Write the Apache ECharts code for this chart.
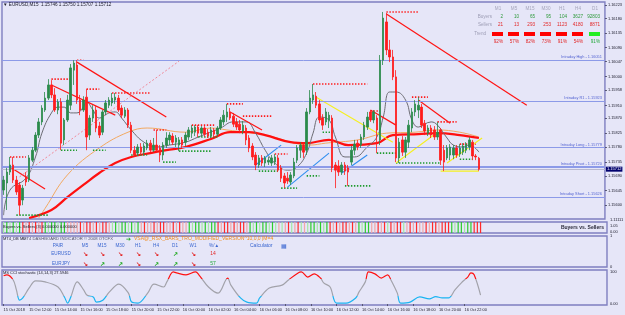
<!DOCTYPE html>
<html>
<head>
<meta charset="utf-8">
<script src="https://cdn.jsdelivr.net/npm/echarts@6/dist/echarts.min.js"></script>
<style>
html,body{margin:0;padding:0;background:#e6e6f8;}
#main{width:625px;height:315px;}
</style>
</head>
<body>
<div id="main"></div>
<script>
// ---- data ----
var slotCount = 189;   // bars + right shift of the terminal
var timeLabels = ['15 Oct 2018','15 Oct 12:00','15 Oct 14:00','15 Oct 16:00','15 Oct 18:00','15 Oct 20:00','15 Oct 22:00',
  '16 Oct 00:00','16 Oct 02:00','16 Oct 04:00','16 Oct 06:00','16 Oct 08:00','16 Oct 10:00','16 Oct 12:00',
  '16 Oct 14:00','16 Oct 16:00','16 Oct 18:00','16 Oct 20:00','16 Oct 22:00'];
var priceTicks = [1.15600,1.15645,1.15690,1.15735,1.15780,1.15825,1.15870,1.15910,1.15958,1.16000,1.16047,1.16090,1.16135,1.16180,1.16223];

// [open, close, low, high]
var candles = [
 [1.15647,1.15678,1.15632,1.15691],[1.15669,1.15703,1.15585,1.15716],[1.15703,1.15725,1.15694,1.15750],[1.15725,1.15678,1.15669,1.15750],[1.15678,1.15641,1.15632,1.15691],
 [1.15663,1.15600,1.15569,1.15672],[1.15616,1.15653,1.15600,1.15663],[1.15688,1.15672,1.15660,1.15703],[1.15678,1.15747,1.15672,1.15756],[1.15740,1.15771,1.15734,1.15781],
 [1.15771,1.15818,1.15765,1.15827],[1.15818,1.15859,1.15809,1.15871],[1.15859,1.15902,1.15849,1.15911],[1.15896,1.15933,1.15890,1.15952],[1.15933,1.15974,1.15927,1.15992],
 [1.15974,1.15943,1.15933,1.15989],[1.15943,1.15896,1.15890,1.15964],[1.15896,1.15921,1.15883,1.15930],[1.15921,1.15793,1.15771,1.15933],[1.15803,1.15865,1.15787,1.15871],
 [1.15865,1.15927,1.15859,1.15943],[1.15911,1.16027,1.15896,1.16039],[1.16020,1.16042,1.15974,1.16051],[1.16036,1.15927,1.15915,1.16051],[1.15927,1.15896,1.15880,1.15943],
 [1.15896,1.15927,1.15890,1.15939],[1.15936,1.15812,1.15771,1.15961],[1.15818,1.15871,1.15803,1.15880],[1.15871,1.15896,1.15859,1.15911],[1.15896,1.15840,1.15827,1.15908],
 [1.15846,1.15818,1.15809,1.15859],[1.15827,1.15890,1.15818,1.15896],[1.15890,1.15918,1.15880,1.15927],[1.15911,1.15927,1.15902,1.15936],[1.15918,1.15933,1.15908,1.15949],
 [1.15927,1.15936,1.15915,1.15949],[1.15933,1.15896,1.15890,1.15943],[1.15902,1.15880,1.15871,1.15911],[1.15877,1.15896,1.15871,1.15905],[1.15896,1.15849,1.15840,1.15902],
 [1.15849,1.15771,1.15762,1.15859],[1.15771,1.15756,1.15750,1.15784],[1.15762,1.15781,1.15753,1.15790],[1.15781,1.15765,1.15756,1.15793],[1.15765,1.15784,1.15756,1.15793],
 [1.15778,1.15793,1.15771,1.15803],[1.15793,1.15771,1.15765,1.15803],[1.15771,1.15787,1.15765,1.15809],[1.15787,1.15771,1.15762,1.15834],[1.15778,1.15756,1.15734,1.15787],
 [1.15756,1.15787,1.15740,1.15796],[1.15787,1.15809,1.15778,1.15827],[1.15803,1.15818,1.15787,1.15827],[1.15815,1.15796,1.15787,1.15824],[1.15796,1.15809,1.15781,1.15818],
 [1.15787,1.15803,1.15768,1.15812],[1.15803,1.15787,1.15778,1.15812],[1.15796,1.15818,1.15784,1.15827],[1.15812,1.15834,1.15803,1.15843],[1.15824,1.15840,1.15809,1.15849],
 [1.15827,1.15843,1.15815,1.15849],[1.15843,1.15824,1.15812,1.15849],[1.15824,1.15840,1.15812,1.15846],[1.15840,1.15821,1.15812,1.15846],[1.15827,1.15815,1.15809,1.15837],
 [1.15815,1.15834,1.15809,1.15843],[1.15834,1.15821,1.15812,1.15840],[1.15821,1.15840,1.15815,1.15846],[1.15840,1.15865,1.15834,1.15874],[1.15859,1.15880,1.15849,1.15896],
 [1.15874,1.15890,1.15859,1.15915],[1.15890,1.15871,1.15865,1.15902],[1.15877,1.15852,1.15843,1.15887],[1.15859,1.15843,1.15834,1.15871],[1.15852,1.15834,1.15824,1.15865],
 [1.15831,1.15849,1.15821,1.15862],[1.15840,1.15803,1.15787,1.15849],[1.15809,1.15778,1.15765,1.15818],[1.15784,1.15750,1.15740,1.15793],[1.15756,1.15725,1.15709,1.15765],
 [1.15725,1.15747,1.15716,1.15756],[1.15747,1.15731,1.15722,1.15756],[1.15731,1.15747,1.15719,1.15753],[1.15734,1.15740,1.15725,1.15750],[1.15731,1.15747,1.15722,1.15756],
 [1.15734,1.15750,1.15725,1.15759],[1.15747,1.15709,1.15703,1.15756],[1.15716,1.15684,1.15672,1.15725],[1.15691,1.15669,1.15653,1.15700],[1.15684,1.15675,1.15666,1.15703],
 [1.15672,1.15694,1.15663,1.15703],[1.15691,1.15734,1.15684,1.15747],[1.15740,1.15778,1.15731,1.15787],[1.15771,1.15787,1.15747,1.15796],[1.15787,1.15765,1.15747,1.15796],
 [1.15771,1.15890,1.15756,1.15902],[1.15890,1.15933,1.15883,1.15958],[1.15927,1.15943,1.15915,1.15977],[1.15939,1.15911,1.15902,1.15952],[1.15915,1.15865,1.15855,1.15927],
 [1.15871,1.15849,1.15834,1.15883],[1.15859,1.15890,1.15849,1.15902],[1.15865,1.15880,1.15840,1.15890],[1.15871,1.15716,1.15703,1.15880],[1.15725,1.15709,1.15653,1.15734],
 [1.15722,1.15703,1.15691,1.15740],[1.15703,1.15725,1.15694,1.15734],[1.15725,1.15706,1.15694,1.15734],[1.15716,1.15703,1.15660,1.15725],[1.15734,1.15771,1.15725,1.15784],
 [1.15771,1.15790,1.15756,1.15803],[1.15793,1.15781,1.15771,1.15803],[1.15787,1.15812,1.15778,1.15821],[1.15812,1.15849,1.15803,1.15859],[1.15843,1.15874,1.15834,1.15890],
 [1.15890,1.15865,1.15859,1.15896],[1.15865,1.15890,1.15855,1.15896],[1.15871,1.15834,1.15762,1.15880],[1.15803,1.16051,1.15787,1.16067],[1.16051,1.16182,1.16036,1.16201],
 [1.16170,1.16083,1.16067,1.16198],[1.16083,1.16061,1.16045,1.16114],[1.16061,1.15999,1.15989,1.16083],[1.15999,1.15747,1.15734,1.16020],[1.15747,1.15796,1.15731,1.15809],
 [1.15803,1.15765,1.15753,1.15815],[1.15765,1.15803,1.15747,1.15812],[1.15796,1.15849,1.15778,1.15865],[1.15840,1.15890,1.15827,1.15902],[1.15890,1.15915,1.15877,1.15927],
 [1.15896,1.15911,1.15871,1.15936],[1.15905,1.15849,1.15840,1.15915],[1.15855,1.15831,1.15818,1.15865],[1.15824,1.15840,1.15815,1.15849],[1.15840,1.15818,1.15809,1.15849],
 [1.15834,1.15812,1.15803,1.15846],[1.15812,1.15827,1.15803,1.15859],[1.15834,1.15740,1.15725,1.15840],[1.15771,1.15734,1.15706,1.15787],[1.15747,1.15778,1.15740,1.15787],
 [1.15756,1.15781,1.15740,1.15790],[1.15756,1.15778,1.15743,1.15787],[1.15778,1.15756,1.15747,1.15787],[1.15759,1.15778,1.15750,1.15790],[1.15765,1.15784,1.15756,1.15793],
 [1.15771,1.15790,1.15762,1.15796],[1.15781,1.15803,1.15771,1.15812],[1.15796,1.15753,1.15740,1.15803],[1.15753,1.15750,1.15740,1.15759],[1.15746,1.15712,1.15707,1.15750]
];

// moving averages, [bar, price]
var redMA = [[8,1.15560],[15,1.15585],[20,1.15625],[25,1.15663],[30,1.15700],[35,1.15731],[40,1.15750],[46,1.15762],[51,1.15771],[57,1.15781],
  [65,1.15806],[71,1.15827],[77,1.15827],[82,1.15818],[90,1.15796],[95,1.15793],[102,1.15803],[108,1.15787],[117,1.15793],[122,1.15818],
  [130,1.15821],[136,1.15824],[143,1.15818],[149,1.15809]];
var orangeMA = [[11,1.15560],[13,1.15590],[20,1.15694],[30,1.15778],[39,1.15827],[45,1.15840],[57,1.15827],[65,1.15840],[70,1.15834],[82,1.15818],
  [96,1.15787],[101,1.15793],[111,1.15803],[120,1.15824],[129,1.15827],[136,1.15834],[143,1.15827],[149,1.15812]];
var grayMA = [[0,1.15569],[2,1.15647],[7,1.15684],[10,1.15750],[12,1.15824],[15,1.15887],[17,1.15905],[19,1.15905],[21,1.15887],[23,1.15887],
  [25,1.15905],[26,1.15921],[28,1.15896],[30,1.15871],[33,1.15887],[35,1.15890],[37,1.15871],[40,1.15834],[44,1.15796],[48,1.15781],
  [52,1.15787],[57,1.15796],[61,1.15812],[68,1.15840],[72,1.15859],[76,1.15859],[79,1.15824],[82,1.15771],[85,1.15731],[89,1.15709],
  [92,1.15719],[95,1.15762],[97,1.15824],[99,1.15874],[102,1.15865],[104,1.15812],[107,1.15750],[110,1.15750],[114,1.15781],[117,1.15812],
  [119,1.15874],[121,1.15952],[123,1.15952],[126,1.15927],[128,1.15865],[130,1.15843],[134,1.15859],[136,1.15849],[139,1.15809],[141,1.15787],
  [144,1.15781],[146,1.15787],[149,1.15765]];

// fractal levels [fromBar, toBar, price]
var highFractals = [[2,7,1.15750],[15,21,1.15992],[23,25,1.16051],[26,30,1.15961],[34,46,1.15949],[47,51,1.15834],[59,66,1.15849],[70,75,1.15915],
  [75,84,1.15877],[85,89,1.15759],[97,114,1.15977],[115,118,1.15893],[120,130,1.16201],[128,133,1.15936],[136,142,1.15859],[143,148,1.15790]];
var lowFractals = [[4,14,1.15569],[18,23,1.15771],[28,32,1.15771],[40,45,1.15756],[50,54,1.15734],[55,65,1.15768],[61,67,1.15812],[80,86,1.15706],
  [87,92,1.15653],[95,99,1.15691],[100,103,1.15827],[107,115,1.15660],[117,123,1.15762],[123,137,1.15731],[143,147,1.15743]];

// drawn trend lines, [[bar, price], [bar, price]]
var redLines = [[[120,1.16195],[164,1.15911]],[[23,1.16045],[51,1.15874]],[[15,1.15974],[35,1.15880]],[[2,1.15719],[13,1.15650]],
  [[71,1.15890],[81,1.15834]],[[115,1.15896],[123,1.15849]],[[130,1.15927],[140,1.15855]]];
var pinkLines = [[[5,1.15688],[55,1.16048]]];
var yellowLines = [[[98,1.15936],[122,1.15796]],[[123,1.15731],[136,1.15827]],[[139,1.15731],[150,1.15809]],[[137,1.15706],[149,1.15706]]];
var blueLines = [[[79,1.15725],[87,1.15787]],[[89,1.15656],[102,1.15762]],[[106,1.15700],[114,1.15756]]];

var levelNames = ['Intraday High - 1.16051','Intraday R1 - 1.15923','Intraday Long - 1.15779','Intraday Pivot - 1.15720','Intraday Short - 1.15626'];
var levelValues = [1.16051,1.15923,1.15779,1.15720,1.15626];
var bidPrice = 1.15712;

// buyers vs sellers, one code per bar
var bsCodes = ['gGgGgG','RrRrRrR','GgGGgGG','rrrr','RrRRrRrRRr','gGgGGgGgG','rRrrRrRRrrRrRrr','GgGGgGgGG','RrRRrRrRRr',
  'GgGgGGgGg','rgrRgrRgrg','GGgGgG','RrRrRRrRr','GgGG','rr','RrRgRrRRgrR','rRrrRr','RRrRRR','GgGGgGG','RRR'].join('');
var bsScale = ['1.11111','1.05','0.00'];

// CCI stochastic, [bar, value]
var cci = [[0,88],[1,91],[3,75],[4,44],[5,12],[6,19],[8,50],[10,72],[13,69],[17,53],[19,22],[20,3],[21,22],[23,69],[25,44],[26,28],[28,22],
  [29,6],[31,12],[33,37],[36,62],[39,34],[40,6],[42,3],[45,34],[47,62],[50,53],[51,69],[53,100],[54,97],[57,91],[60,100],[61,91],[64,53],
  [67,34],[70,81],[71,59],[74,19],[76,6],[79,3],[80,19],[83,50],[87,59],[89,75],[92,97],[93,100],[95,84],[97,94],[99,81],[100,66],[102,53],
  [104,3],[107,3],[110,19],[111,37],[113,69],[114,100],[116,94],[118,81],[120,91],[121,75],[123,34],[124,3],[127,6],[130,22],[133,16],
  [135,23],[137,19],[139,19],[141,44],[143,66],[145,84],[146,97],[147,91],[149,27.59]];

// buyers/sellers table top right
var tfNames = ['M1','M5','M15','M30','H1','H4','D1'];
var buyers = ['2','10','65','95','104','3627','92803'];
var sellers = ['21','13','293','253','1123','4180','8871'];
var trendUp = [false,false,false,false,false,false,true];
var trendPct = ['92%','57%','82%','73%','91%','54%','91%'];

// dashboard
var dashCols = ['M5','M15','M30','H1','H4','D1','W1'];
var dashPairs = ['EURUSD','EURJPY'];
var dashDirs = [[-1,-1,-1,-1,-1,1,-1],[-1,1,1,-1,1,1,-1]];
var dashPct = ['14','57'];

// ---- chart ----
var slots = [];
for (var i = 0; i < slotCount; i++) slots.push(i);

var FONT = '"Liberation Sans", Arial, sans-serif';
function txt(x, y, s, color, size, align, weight) {
  return {type:'text', x:x, y:y, silent:true, z:100,
    style:{text:s, fill:color, font:(weight||'normal')+' '+size+'px '+FONT,
      align:align||'left', textAlign:align||'left', verticalAlign:'middle', textVerticalAlign:'middle'}};
}

var graphics = [];
graphics.push(txt(3, 5, '\u25BC EURUSD,M15  1.15746 1.15750 1.15707 1.15712', '#1a1a2a', 4.6));
// top right table
var colRight = [503,519,535,551,567,583,600];
graphics.push(txt(492, 17, 'Buyers', '#9d9db5', 4.6, 'right'));
graphics.push(txt(492, 25, 'Sellers', '#9d9db5', 4.6, 'right'));
graphics.push(txt(486, 34, 'Trend', '#9d9db5', 4.6, 'right'));
for (var c = 0; c < tfNames.length; c++) {
  graphics.push(txt(colRight[c]-5, 9, tfNames[c], '#a6a6bc', 4.6, 'center'));
  graphics.push(txt(colRight[c], 17, buyers[c], '#2f9a3c', 4.6, 'right'));
  graphics.push(txt(colRight[c], 25, sellers[c], '#e32626', 4.6, 'right'));
  graphics.push({type:'rect', silent:true, z:100, shape:{x:colRight[c]-11, y:32, width:11, height:4},
    style:{fill: trendUp[c] ? '#22ee22' : '#ff0000'}});
  graphics.push(txt(colRight[c], 42, trendPct[c], trendUp[c] ? '#22a83a' : '#e32626', 4.6, 'right'));
}
// buyers vs sellers pane
graphics.push(txt(3, 227, 'Buyers vs. Sellers (3) 0.000000 0.000000', '#1a1a2a', 4));
graphics.push(txt(604, 228, 'Buyers vs. Sellers', '#2a2a3a', 5, 'right', 'bold'));
graphics.push(txt(610, 220, bsScale[0], '#1a1a2a', 4));
graphics.push(txt(610, 226, bsScale[1], '#1a1a2a', 4));
graphics.push(txt(610, 231.5, bsScale[2], '#1a1a2a', 4));
// dashboard pane
graphics.push(txt(3, 239, 'MT4_DB M0', '#1a1a2a', 4));
graphics.push(txt(23, 239, 'MT4 DASHBOARD INDICATOR \u00A9 2008 OTCFX', '#55556a', 4.2));
graphics.push(txt(126, 239, '\u2794', '#22aa22', 6));
graphics.push(txt(134, 239, 'VSA@_RSX_BARS_TRO_MODIFIED_VERSION^10,0,0 |M=4', '#f28a1a', 5));
var dashX = [85,102,120,138,156,175,193];
graphics.push(txt(58, 246, 'PAIR', '#3a66d0', 4.6, 'center'));
for (c = 0; c < dashCols.length; c++) graphics.push(txt(dashX[c], 246, dashCols[c], '#3a66d0', 4.6, 'center'));
graphics.push(txt(214, 246, '%/\u25B2', '#3a66d0', 4.6, 'center'));
graphics.push(txt(250, 246, 'Calculator', '#3a66d0', 5));
graphics.push(txt(281, 246, '\u25A6', '#3a66d0', 6));
var rowY = [254, 264];
for (var r = 0; r < dashPairs.length; r++) {
  graphics.push(txt(61, rowY[r], dashPairs[r], '#3a66d0', 4.6, 'center'));
  for (c = 0; c < dashCols.length; c++) {
    var up = dashDirs[r][c] > 0;
    graphics.push(txt(dashX[c], rowY[r], up ? '\u2197' : '\u2198', up ? '#22aa22' : '#e32626', 6, 'center', 'bold'));
  }
  graphics.push(txt(213, rowY[r], dashPct[r], r === 0 ? '#e32626' : '#22a83a', 5, 'center'));
}
// cci pane
graphics.push(txt(3, 272.5, 'MS CCI stochastic (14,14,3) 27.5946', '#1a1a2a', 4));

// series
var series = [];
series.push({
  type:'candlestick', xAxisIndex:0, yAxisIndex:0, data:candles, barWidth:2, z:5,
  itemStyle:{color:'#2b8a4b', color0:'#ff1c1c', borderColor:'#2b8a4b', borderColor0:'#ff1c1c', borderWidth:0.8},
  markLine:{
    symbol:'none', silent:true, animation:false, precision:5,
    lineStyle:{color:'#8c9ae8', width:1, type:'solid'},
    label:{position:'insideEndTop', distance:[3,1], fontSize:3.9, fontFamily:'Liberation Sans', color:'#5464d2'},
    data: levelValues.map(function (v, k) {
      return {yAxis:v, label:{formatter: levelNames[k]}, lineStyle: k === 3 ? {width:2} : {}};
    }).concat([{yAxis:bidPrice, lineStyle:{color:'#b8b8d0', width:1},
      label:{position:'end', distance:1, formatter:'1.15712', backgroundColor:'#00006e', color:'#ffffff', padding:[1,1,0,1], fontSize:4}}])
  }
});
function lineSeries(data, color, width, type, smooth) {
  return {type:'line', xAxisIndex:0, yAxisIndex:0, data:data, showSymbol:false, symbol:'none', smooth:smooth||false,
    silent:true, z:4, lineStyle:{color:color, width:width, type:type||'solid'}};
}
series.push(lineSeries(orangeMA, '#f2a860', 1, 'solid', 0.4));
series.push(lineSeries(redMA, '#ff1010', 2.2, 'solid', 0.4));
series.push(lineSeries(grayMA, '#6c6c74', 1, 'solid', 0.45));
highFractals.forEach(function (f) {
  series.push(lineSeries([[f[0], f[2]], [f[1], f[2]]], '#ff1a1a', 1.6, [1.4, 1.6]));
});
lowFractals.forEach(function (f) {
  series.push(lineSeries([[f[0], f[2]], [f[1], f[2]]], '#1e9a2e', 1.6, [1.4, 1.6]));
});
redLines.forEach(function (l) { series.push(lineSeries(l, '#ff1414', 1.2)); });
pinkLines.forEach(function (l) { series.push(lineSeries(l, '#f08a9a', 1, [2, 2])); });
yellowLines.forEach(function (l) { series.push(lineSeries(l, '#f5f020', 1.1)); });
blueLines.forEach(function (l) { series.push(lineSeries(l, '#2e8ef0', 1.1)); });

var bsColor = {G:'#2ccc2c', g:'#a4e8a4', R:'#ff2a2a', r:'#f2a6a6'};
series.push({
  type:'bar', xAxisIndex:1, yAxisIndex:1, barWidth:1.2, silent:true,
  data: bsCodes.split('').map(function (ch) { return {value:1, itemStyle:{color:bsColor[ch]}}; })
});
var cciIndex = series.length;
series.push({
  type:'line', xAxisIndex:3, yAxisIndex:3, data:cci, showSymbol:false, symbol:'none', smooth:0.35, silent:true,
  lineStyle:{width:1.2}
});

function xCat() {
  return {type:'category', data:slots, boundaryGap:true, gridIndex:0,
    axisLine:{show:false}, axisTick:{show:false}, axisLabel:{show:false}, splitLine:{show:false}};
}
var xAxes = [xCat(), xCat(), xCat(), xCat()];
for (var g = 0; g < 4; g++) xAxes[g].gridIndex = g;
var tickOn = function (idx) { return idx % 8 === 0 && idx / 8 < timeLabels.length; };
xAxes[3].axisLabel = {show:true, interval:tickOn, formatter:function (v, idx) { return timeLabels[idx / 8]; },
  fontSize:3.9, fontFamily:'Liberation Sans', color:'#1a1a2a', align:'left', margin:3};
xAxes[3].axisTick = {show:true, interval:tickOn, alignWithLabel:true, length:2, lineStyle:{color:'#555570'}};

var grids = [
  {left:2, top:2, width:605, height:217},
  {left:2, top:222, width:605, height:11},
  {left:2, top:236, width:605, height:31},
  {left:2, top:270, width:605, height:35}
].map(function (gr) {
  gr.show = true; gr.borderColor = '#7f7fc0'; gr.borderWidth = 1.4; gr.backgroundColor = 'transparent';
  return gr;
});

var yAxes = [
  {type:'value', gridIndex:0, position:'right', min:1.15557, max:1.16232, splitLine:{show:false}, axisLine:{show:false},
    axisTick:{show:true, customValues:priceTicks, length:2, lineStyle:{color:'#555570'}},
    axisLabel:{customValues:priceTicks, formatter:function (v) { return v.toFixed(5); }, fontSize:3.9,
      fontFamily:'Liberation Sans', color:'#1a1a2a', margin:3}},
  {type:'value', gridIndex:1, position:'right', min:0, max:1, splitLine:{show:false}, axisLine:{show:false},
    axisTick:{show:false}, axisLabel:{show:false}},
  {type:'value', gridIndex:2, position:'right', min:0, max:1, splitLine:{show:false}, axisLine:{show:false},
    axisTick:{show:false}, axisLabel:{customValues:[0,1], fontSize:4, fontFamily:'Liberation Sans', color:'#1a1a2a', margin:3}},
  {type:'value', gridIndex:3, position:'right', min:-3, max:106, splitLine:{show:false}, axisLine:{show:false},
    axisTick:{show:false}, axisLabel:{customValues:[0,100], formatter:function (v) { return v === 0 ? '0.00' : '100'; },
      fontSize:4, fontFamily:'Liberation Sans', color:'#1a1a2a', margin:3}}
];

var chart = echarts.init(document.getElementById('main'));
chart.setOption({
  animation:false,
  backgroundColor:'#e6e6f8',
  grid:grids,
  xAxis:xAxes,
  yAxis:yAxes,
  visualMap:[{type:'piecewise', show:false, seriesIndex:cciIndex, dimension:1,
    pieces:[{lt:25, color:'#1ab4f2'}, {gte:25, lt:78, color:'#a2a2aa'}, {gte:78, color:'#ff1010'}]}],
  series:series,
  graphic:graphics
});
</script>
</body>
</html>
